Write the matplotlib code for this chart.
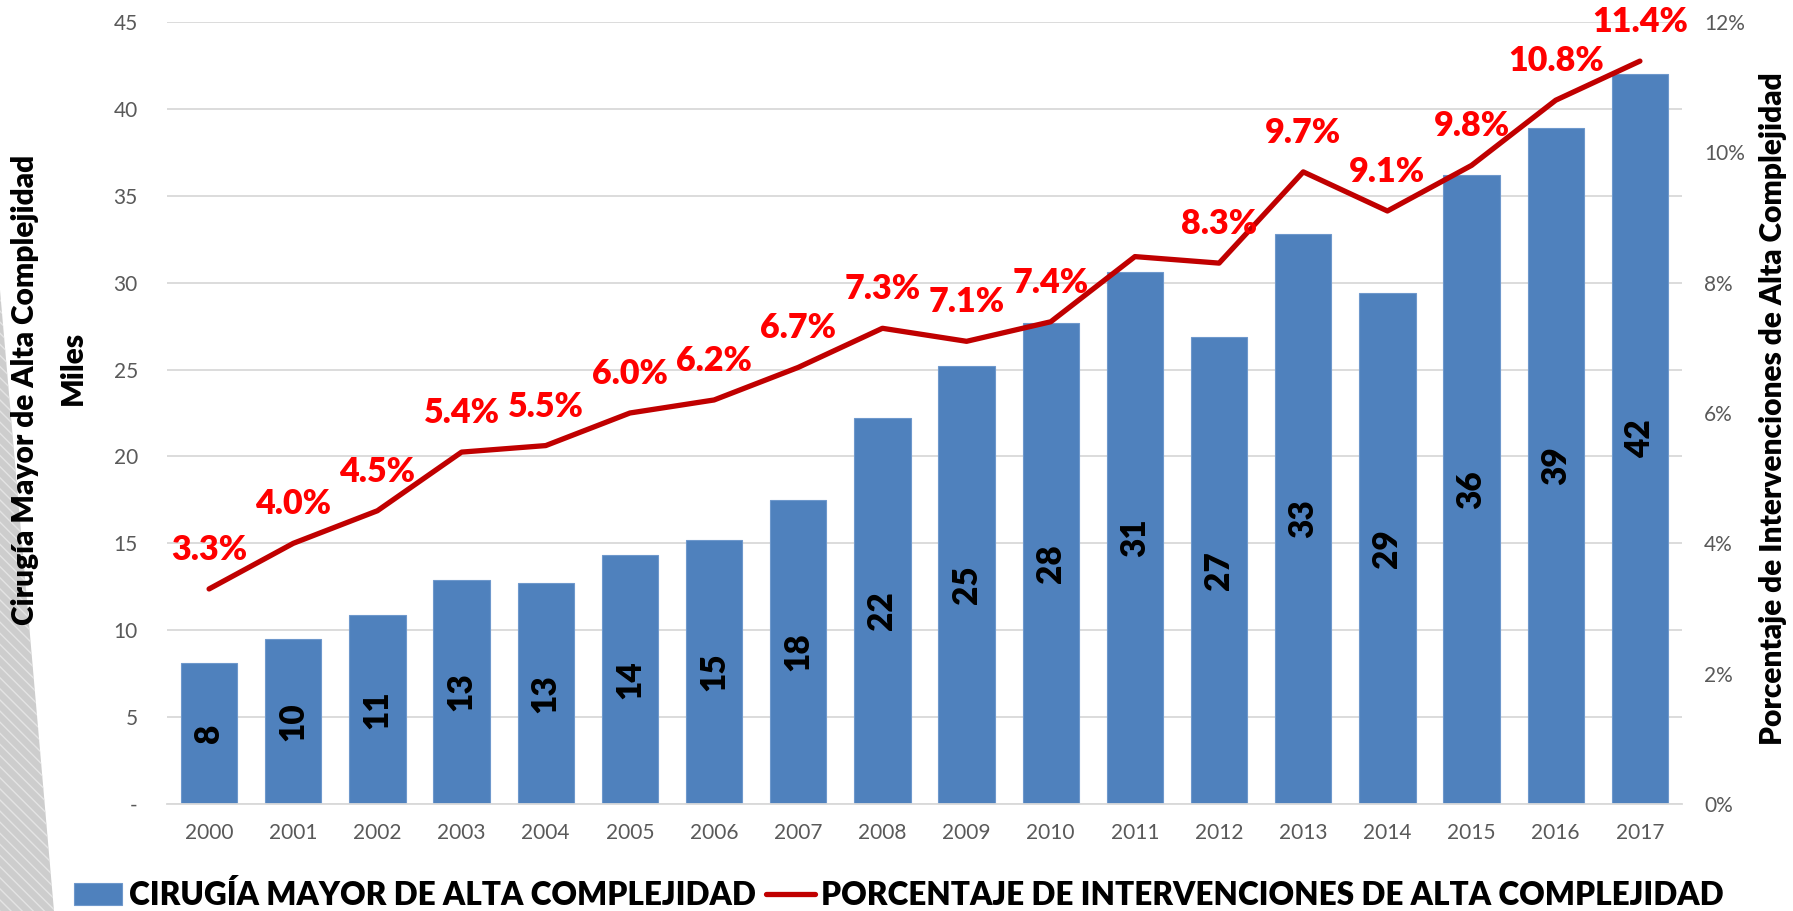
import matplotlib
matplotlib.use("Agg")
import matplotlib.pyplot as plt
from matplotlib.patches import Polygon
from matplotlib.ticker import FixedLocator, FuncFormatter
import numpy as np

# ---- data ----
years = ["2000", "2001", "2002", "2003", "2004", "2005", "2006", "2007", "2008",
         "2009", "2010", "2011", "2012", "2013", "2014", "2015", "2016", "2017"]
cirugias_miles = [8.1, 9.5, 10.9, 12.9, 12.7, 14.3, 15.2, 17.5, 22.2,
                  25.2, 27.7, 30.6, 26.9, 32.8, 29.4, 36.2, 38.9, 42.0]
porcentaje = [3.3, 4.0, 4.5, 5.4, 5.5, 6.0, 6.2, 6.7, 7.3,
              7.1, 7.4, 8.4, 8.3, 9.7, 9.1, 9.8, 10.8, 11.4]
pct_labels = ["3.3%", "4.0%", "4.5%", "5.4%", "5.5%", "6.0%", "6.2%", "6.7%", "7.3%",
              "7.1%", "7.4%", "", "8.3%", "9.7%", "9.1%", "9.8%", "10.8%", "11.4%"]
left_ticks = [0, 5, 10, 15, 20, 25, 30, 35, 40, 45]
right_ticks = [0, 2, 4, 6, 8, 10, 12]
bar_name = "CIRUGÍA MAYOR DE ALTA COMPLEJIDAD"
line_name = "PORCENTAJE DE INTERVENCIONES DE ALTA COMPLEJIDAD"
left_title = "Cirugía Mayor de Alta Complejidad"
left_unit = "Miles"
right_title = "Porcentaje de Intervenciones de Alta Complejidad"

# ---- style ----
plt.rcParams['font.family'] = ['Lato', 'DejaVu Sans']
BAR = '#4F81BD'
LINE = '#C00000'
RED = '#FF0000'
GRID = '#D9D9D9'
TICK = '#595959'
HEAVY = 'heavy'

W, H = 1793, 911
fig = plt.figure(figsize=(W / 100, H / 100), dpi=100)

# decorative grey stripe at bottom-left
deco = Polygon([(0, 1 - 290 / H), (54 / W, 0), (0, 0)], closed=True,
               transform=fig.transFigure, facecolor='#CDCDCD', edgecolor='#E4E4E4',
               linewidth=0, hatch='\\\\\\', zorder=0)
fig.add_artist(deco)

ax = fig.add_axes([167 / W, 1 - 804 / H, (1682 - 167) / W, (804 - 22) / H])
ax2 = ax.twinx()

x = np.arange(len(years))
bars = ax.bar(x, cirugias_miles, width=0.67, color=BAR, edgecolor='#6E98CC',
              linewidth=0.8, zorder=2, label=bar_name)
for xi, v in zip(x, cirugias_miles):
    ax.text(xi, v / 2, f"{v:.0f}", rotation=90, ha='center', va='center',
            fontsize=24, fontweight=HEAVY, color='black', zorder=3)

ax.set_xlim(-0.5, len(years) - 0.5)
ax.set_ylim(0, 45)
ax.yaxis.set_major_locator(FixedLocator(left_ticks))
ax.yaxis.set_major_formatter(FuncFormatter(lambda v, p: "-" if v == 0 else f"{v:.0f}"))
ax.set_xticks(x)
ax.set_xticklabels(years)
ax.tick_params(axis='y', length=0, pad=21, labelsize=15, labelcolor=TICK)
ax.tick_params(axis='x', length=0, pad=14, labelsize=15, labelcolor=TICK)
ax.grid(axis='y', color=GRID, linewidth=1.3)
ax.set_axisbelow(True)
for s in ['top', 'right', 'left']:
    ax.spines[s].set_visible(False)
ax.spines['bottom'].set_color(GRID)
ax.spines['bottom'].set_linewidth(1.3)

line, = ax2.plot(x, porcentaje, color=LINE, linewidth=3.8, solid_capstyle='round',
                 solid_joinstyle='round', zorder=4, label=line_name)
for xi, v, lab in zip(x, porcentaje, pct_labels):
    if lab:
        ax2.annotate(lab, xy=(xi, v), xytext=(0, 28), textcoords='offset points',
                     ha='center', va='center', fontsize=24.5, fontweight=HEAVY,
                     color=RED, zorder=5, annotation_clip=False)
ax2.set_ylim(0, 12)
ax2.yaxis.set_major_locator(FixedLocator(right_ticks))
ax2.yaxis.set_major_formatter(FuncFormatter(lambda v, p: f"{v:.0f}%"))
ax2.tick_params(axis='y', length=0, pad=16, labelsize=15, labelcolor=TICK)
for s in ax2.spines.values():
    s.set_visible(False)

# axis titles
fig.text(25 / W, 1 - 390 / H, left_title, rotation=90, ha='center', va='center',
         fontsize=21.5, fontweight=HEAVY, color='black')
fig.text(73 / W, 1 - 368 / H, left_unit, rotation=90, ha='center', va='center',
         fontsize=21.5, fontweight=HEAVY, color='black')
fig.text(1773 / W, 1 - 409 / H, right_title, rotation=90, ha='center', va='center',
         fontsize=21.5, fontweight=HEAVY, color='black')

# legend
fig.legend(handles=[bars, line], labels=[bar_name, line_name], loc='center',
           bbox_to_anchor=(0.5013, 1 - 895 / H), ncol=2, frameon=False,
           prop={'size': 22.7, 'weight': HEAVY}, handlelength=1.55,
           handletextpad=0.22, columnspacing=0.3, borderpad=0, borderaxespad=0)

fig.savefig("out.png", dpi=100)
